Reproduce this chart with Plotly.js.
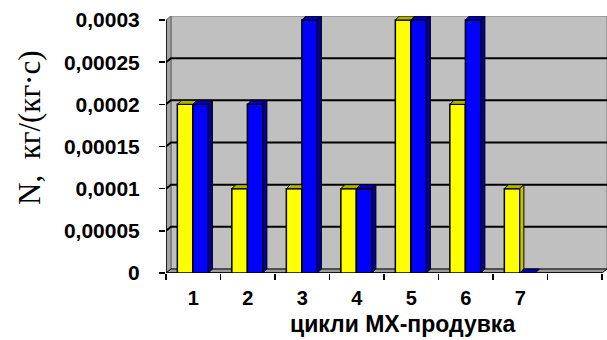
<!DOCTYPE html>
<html><head><meta charset="utf-8">
<script src="https://cdn.plot.ly/plotly-3.0.1.min.js"></script>
<style>html,body{margin:0;padding:0;background:#fff}</style>
</head><body><div id="chart" style="width:607px;height:340px"></div>
<script>
// ---- data ----
const categories = ['1', '2', '3', '4', '5', '6', '7'];
const seriesYellow = [0.0002, 0.0001, 0.0001, 0.0001, 0.0003, 0.0002, 0.0001];
const seriesBlue = [0.0002, 0.0002, 0.0003, 0.0001, 0.0003, 0.0003, 0];
const yTickVals = [0, 0.00005, 0.0001, 0.00015, 0.0002, 0.00025, 0.0003];
const yTickText = ['0', '0,00005', '0,0001', '0,00015', '0,0002', '0,00025', '0,0003'];
const xTitle = 'цикли МХ-продувка';
const yTitle = 'N,\u00A0\u00A0кг/(кг·с)';
const nSlots = 8;

// ---- geometry ----
const W = 607, H = 340, ML = 166, MT = 16, MB = 67, MR = 0;
const plotW = W - ML - MR, plotH = H - MT - MB;
const wallDXpx = 5, wallDYpx = 4, barDpx = 4;
const yTop = yTickVals[yTickVals.length - 1];
const pxPerX = (plotW - wallDXpx) / nSlots;
const pxPerY = (plotH - wallDYpx) / yTop;
const xMin = 0.5, xFrontMax = 0.5 + nSlots;
const xMax = xMin + plotW / pxPerX;
const yMax = plotH / pxPerY;
const WDX = wallDXpx / pxPerX, WDY = wallDYpx / pxPerY;
const BDX = barDpx / pxPerX, BDY = barDpx / pxPerY;

const barWidth = 0.285, offY = -0.292, offB = -0.007;
const xs = categories.map((c, i) => i + 1);

function poly(pts) {
  return 'M' + pts.map(p => p[0] + ',' + p[1]).join(' L') + ' Z';
}
const shapes = [];
function addPoly(pts, fill, line, lw, layer) {
  shapes.push({type: 'path', xref: 'x', yref: 'y', path: poly(pts), fillcolor: fill,
    line: {color: line, width: lw}, layer: layer});
}
function addLine(pts, color, w, layer) {
  shapes.push({type: 'path', xref: 'x', yref: 'y', path: 'M' + pts.map(p => p[0] + ',' + p[1]).join(' L'),
    line: {color: color, width: w}, layer: layer});
}
// walls
addPoly([[xMin + WDX, WDY], [xFrontMax + WDX, WDY], [xFrontMax + WDX, yTop + WDY], [xMin + WDX, yTop + WDY]], '#c0c0c0', '#808080', 1, 'below');
addPoly([[xMin, 0], [xMin, yTop], [xMin + WDX, yTop + WDY], [xMin + WDX, WDY]], '#a4a4a4', '#606060', 1, 'below');
addPoly([[xMin, 0], [xFrontMax, 0], [xFrontMax + WDX, WDY], [xMin + WDX, WDY]], '#9c9c9c', '#000', 1, 'below');
// gridlines on walls
yTickVals.forEach(v => {
  if (v > 0 && v < yTop) addLine([[xMin, v], [xMin + WDX, v + WDY], [xFrontMax + WDX, v + WDY]], '#000', 2, 'below');
});
addLine([[xMin, yTop], [xMin, 0], [xFrontMax, 0]], '#000', 1.5, 'below');

// 3D faces of bars
const yTopC = '#b0b000', ySideC = '#c4c400', bTopC = '#0000b4', bSideC = '#00009c';
xs.forEach((x, i) => {
  const yy = seriesYellow[i], yb = seriesBlue[i];
  const yx0 = x + offY, yx1 = x + offY + barWidth;
  const bx0 = x + offB, bx1 = x + offB + barWidth;
  if (yb > yy) addPoly([[yx0, yy], [yx1, yy], [yx1, yy + BDY], [yx0 + BDX, yy + BDY]], yTopC, '#000', 1, 'above');
  else addPoly([[yx0, yy], [yx1, yy], [yx1 + BDX, yy + BDY], [yx0 + BDX, yy + BDY]], yTopC, '#000', 1, 'above');
  if (yy > yb) addPoly([[yx1, yb], [yx1, yy], [yx1 + BDX, yy + BDY], [yx1 + BDX, yb + BDY]], ySideC, '#000', 1, 'above');
  addPoly([[bx0, yb], [bx1, yb], [bx1 + BDX, yb + BDY], [bx0 + BDX, yb + BDY]], bTopC, '#000', 1, 'above');
  if (yb > 0) addPoly([[bx1, 0], [bx1, yb], [bx1 + BDX, yb + BDY], [bx1 + BDX, BDY]], bSideC, '#000', 1, 'above');
});

const traces = [
  {type: 'bar', x: xs, y: seriesYellow, width: barWidth, offset: offY,
   marker: {color: '#ffff00', line: {color: '#000', width: 1.5}}, hoverinfo: 'skip'},
  {type: 'bar', x: xs, y: seriesBlue, width: barWidth, offset: offB,
   marker: {color: '#0000ff', line: {color: '#000', width: 1.5}}, hoverinfo: 'skip'}
];

const yTickFont = {family: 'Liberation Sans, Arial, sans-serif', size: 21, color: '#000', weight: 'bold'};
const xTickFont = {family: 'Liberation Sans, Arial, sans-serif', size: 20, color: '#000', weight: 'bold'};
const layout = {
  width: W, height: H,
  margin: {l: ML, r: MR, t: MT, b: MB, pad: 0},
  paper_bgcolor: '#fff', plot_bgcolor: '#fff',
  showlegend: false, barmode: 'overlay',
  xaxis: {type: 'linear', range: [xMin, xMax], tickmode: 'array', tickvals: xs, ticktext: categories,
    ticks: '', showgrid: false, zeroline: false, showline: false, tickfont: xTickFont,
    ticklabelstandoff: 11,
    minor: {tickmode: 'linear', tick0: 0.5, dtick: 1, ticks: 'outside', ticklen: 6, tickwidth: 1.5, tickcolor: '#000', showgrid: false}},
  yaxis: {range: [0, yMax], tickmode: 'array', tickvals: yTickVals, ticktext: yTickText,
    ticks: 'outside', ticklen: 6, tickwidth: 1.5, tickcolor: '#000',
    showgrid: false, zeroline: false, showline: false, tickfont: yTickFont, ticklabelstandoff: 15},
  shapes: shapes,
  annotations: [
    {text: xTitle, xref: 'paper', yref: 'paper', x: (402 - ML) / plotW, y: -(324 - (H - MB)) / plotH,
     xanchor: 'center', yanchor: 'middle', showarrow: false,
     font: {family: 'Liberation Sans, Arial, sans-serif', size: 23, color: '#000', weight: 'bold'}},
    {text: yTitle, xref: 'paper', yref: 'paper', x: (29 - ML) / plotW, y: ((H - MB) - 128) / plotH,
     xanchor: 'center', yanchor: 'middle', showarrow: false, textangle: -90,
     font: {family: 'Liberation Serif, Times New Roman, serif', size: 31, color: '#000'}}
  ]
};
Plotly.newPlot('chart', traces, layout, {displayModeBar: false, staticPlot: true});
</script></body></html>
